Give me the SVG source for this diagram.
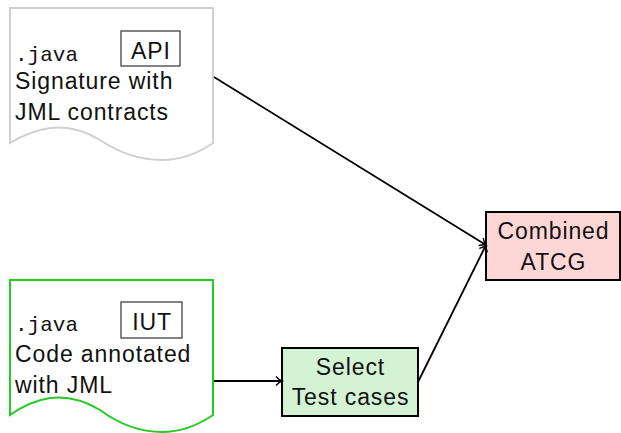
<svg xmlns="http://www.w3.org/2000/svg" width="621" height="433" viewBox="0 0 621 433">
  <defs>
    <marker id="arr" markerWidth="12" markerHeight="12" refX="9" refY="6" orient="auto" markerUnits="userSpaceOnUse">
      <path d="M3,1.5 Q6,5 9,6 Q6,7 3,10.5" fill="none" stroke="#000" stroke-width="1.4"/>
    </marker>
  </defs>
  <style>
    .t { font-family: "Liberation Sans", Arial, sans-serif; font-size: 23px; letter-spacing: 0.9px; fill: #111; }
    .mono { font-family: "Liberation Mono", "DejaVu Sans Mono", monospace; font-size: 21px; fill: #111; }
    .mid { text-anchor: middle; }
    .doc { fill: #fff; stroke-width: 2; }
    .tag { fill: none; stroke: #333; stroke-width: 1.2; }
    .box { stroke: #000; stroke-width: 2; }
    .edge { fill: none; stroke: #000; stroke-width: 1.8; marker-end: url(#arr); }
  </style>

  <g id="api-doc">
    <path class="doc" stroke="#d0d0d0" d="M10,8 H213 V143 Q188,160 162,160 Q130,160 100,140 Q75,125 50,128 Q30,131 10,143 Z"/>
    <text class="mono" x="15" y="61">.java</text>
    <rect class="tag" x="121" y="31" width="59" height="35"/>
    <text class="t mid" x="151" y="59">API</text>
    <text class="t" x="15" y="89">Signature with</text>
    <text class="t" x="15" y="120">JML contracts</text>
  </g>

  <g id="iut-doc">
    <path class="doc" stroke="#22cc22" d="M10,280 H213 V415 Q188,432 162,432 Q130,432 100,410 Q75,395 50,398 Q30,401 10,415 Z"/>
    <text class="mono" x="15" y="331">.java</text>
    <rect class="tag" x="121" y="302" width="61" height="36"/>
    <text class="t mid" x="152" y="330">IUT</text>
    <text class="t" x="15" y="362">Code annotated</text>
    <text class="t" x="15" y="393">with JML</text>
  </g>

  <g id="select">
    <rect class="box" x="282" y="348" width="136" height="68" fill="#d4f3d4"/>
    <text class="t mid" x="350.5" y="375">Select</text>
    <text class="t mid" x="350.5" y="405">Test cases</text>
  </g>

  <g id="combined">
    <rect class="box" x="486" y="212" width="134" height="68" fill="#ffd6d6"/>
    <text class="t mid" x="553.5" y="239">Combined</text>
    <text class="t mid" x="553.5" y="270">ATCG</text>
  </g>

  <g id="connectors">
    <path class="edge" d="M214,77 L486,245"/>
    <path class="edge" d="M418,382 L486,245"/>
    <path class="edge" d="M214,381 L282,381"/>
  </g>
</svg>
